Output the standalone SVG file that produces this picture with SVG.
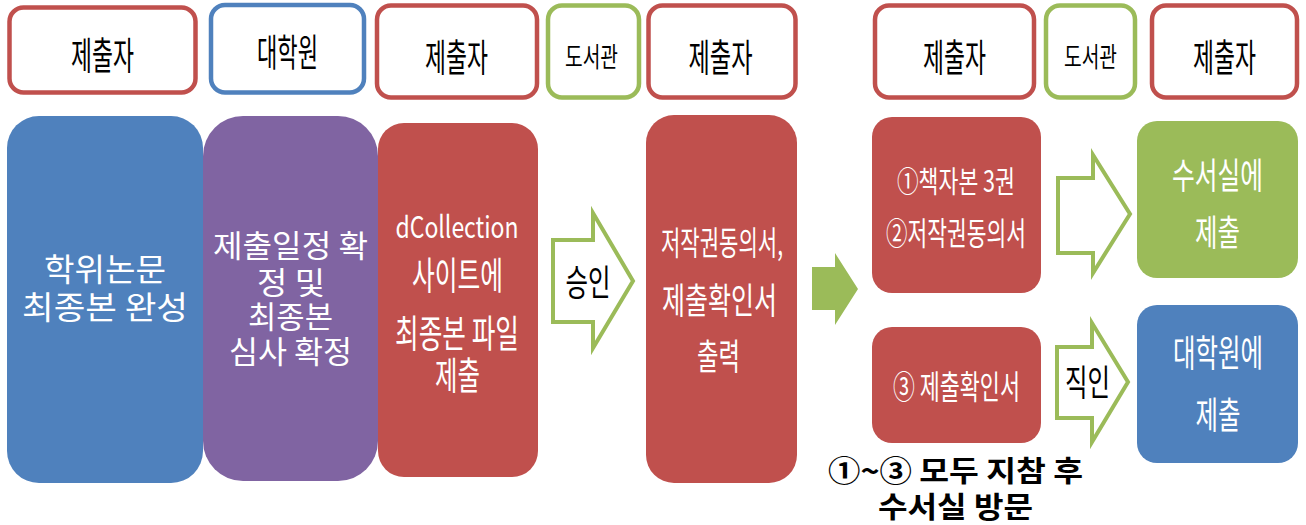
<svg xmlns="http://www.w3.org/2000/svg" width="1306" height="525" viewBox="0 0 1306 525">
<style>
text{font-family:"Noto Sans CJK KR","Noto Sans",sans-serif;text-anchor:middle}
.hdr{fill:#fff;stroke-width:4.5}
.r{stroke:#C0504D}.b{stroke:#4F81BD}.g{stroke:#9BBB59}
.ht{fill:#000;font-size:38px}
.hs{fill:#000;font-size:27px}
.w{fill:#fff}
.k{fill:#000}
.arr{fill:#fff;stroke:#9BBB59;stroke-width:4;stroke-linejoin:miter}
.bold{fill:#000;font-size:29px;font-weight:bold}
</style>
<rect width="1306" height="525" fill="#fff"/>
<!-- header row -->
<g id="h1"><rect class="hdr r" x="9.5" y="7.5" width="186" height="85" rx="14"/><text class="ht" x="102.5" y="69" textLength="63" lengthAdjust="spacingAndGlyphs">제출자</text></g>
<g id="h2"><rect class="hdr b" x="211" y="5" width="153" height="87.5" rx="14"/><text class="ht" x="287.5" y="66" textLength="61" lengthAdjust="spacingAndGlyphs">대학원</text></g>
<g id="h3"><rect class="hdr r" x="377" y="5.5" width="160" height="92" rx="14"/><text class="ht" x="456.5" y="71" textLength="63" lengthAdjust="spacingAndGlyphs">제출자</text></g>
<g id="h4"><rect class="hdr g" x="548" y="5.5" width="91" height="92" rx="14"/><text class="hs" x="591.5" y="67" textLength="53" lengthAdjust="spacingAndGlyphs">도서관</text></g>
<g id="h5"><rect class="hdr r" x="648.5" y="5.5" width="147" height="92" rx="14"/><text class="ht" x="720.5" y="71" textLength="64" lengthAdjust="spacingAndGlyphs">제출자</text></g>
<g id="h6"><rect class="hdr r" x="875" y="5.5" width="159" height="92" rx="14"/><text class="ht" x="954.5" y="71" textLength="63" lengthAdjust="spacingAndGlyphs">제출자</text></g>
<g id="h7"><rect class="hdr g" x="1046" y="5.5" width="89" height="92" rx="14"/><text class="hs" x="1090.5" y="67" textLength="53" lengthAdjust="spacingAndGlyphs">도서관</text></g>
<g id="h8"><rect class="hdr r" x="1152" y="5.5" width="145" height="92" rx="14"/><text class="ht" x="1224.5" y="71" textLength="63" lengthAdjust="spacingAndGlyphs">제출자</text></g>
<!-- process boxes -->
<g id="n1"><rect x="7" y="116" width="196" height="367" rx="32" fill="#4F81BD"/>
<text class="w" font-size="32" x="105" y="281" textLength="122" lengthAdjust="spacingAndGlyphs">학위논문</text>
<text class="w" font-size="32" x="105" y="319" textLength="166" lengthAdjust="spacingAndGlyphs">최종본 완성</text></g>
<g id="n2"><rect x="203" y="116" width="175" height="365" rx="40" fill="#8064A2"/>
<text class="w" font-size="31" x="290.5" y="257" textLength="155" lengthAdjust="spacingAndGlyphs">제출일정 확</text>
<text class="w" font-size="31" x="291" y="294" textLength="68" lengthAdjust="spacingAndGlyphs">정 및</text>
<text class="w" font-size="31" x="290.5" y="328" textLength="85" lengthAdjust="spacingAndGlyphs">최종본</text>
<text class="w" font-size="31" x="290.5" y="363" textLength="123" lengthAdjust="spacingAndGlyphs">심사 확정</text></g>
<g id="n3"><rect x="378" y="123" width="160" height="354" rx="26" fill="#C0504D"/>
<text class="w" font-size="30" x="457" y="238" textLength="123" lengthAdjust="spacingAndGlyphs">dCollection</text>
<text class="w" font-size="38" x="457.5" y="289" textLength="91" lengthAdjust="spacingAndGlyphs">사이트에</text>
<text class="w" font-size="38" x="457" y="347" textLength="124" lengthAdjust="spacingAndGlyphs">최종본 파일</text>
<text class="w" font-size="38" x="457.5" y="389" textLength="45" lengthAdjust="spacingAndGlyphs">제출</text></g>
<g id="n4"><rect x="646" y="115" width="151" height="368" rx="28" fill="#C0504D"/>
<text class="w" font-size="33" x="722" y="255" textLength="122" lengthAdjust="spacingAndGlyphs">저작권동의서,</text>
<text class="w" font-size="36" x="719.5" y="314" textLength="115" lengthAdjust="spacingAndGlyphs">제출확인서</text>
<text class="w" font-size="36" x="718.5" y="370" textLength="43" lengthAdjust="spacingAndGlyphs">출력</text></g>
<g id="n5"><rect x="872" y="117" width="169" height="176" rx="20" fill="#C0504D"/>
<text class="w" font-size="30" x="956" y="192" textLength="118" lengthAdjust="spacingAndGlyphs">①책자본 3권</text>
<text class="w" font-size="32" x="956" y="245" textLength="140" lengthAdjust="spacingAndGlyphs">②저작권동의서</text></g>
<g id="n6"><rect x="872" y="327" width="169" height="116" rx="20" fill="#C0504D"/>
<text class="w" font-size="33" x="956.5" y="399" textLength="127" lengthAdjust="spacingAndGlyphs">③ 제출확인서</text></g>
<g id="n7"><rect x="1137" y="121" width="161" height="157" rx="20" fill="#9BBB59"/>
<text class="w" font-size="36" x="1217.5" y="189" textLength="91" lengthAdjust="spacingAndGlyphs">수서실에</text>
<text class="w" font-size="36" x="1217.5" y="246" textLength="45" lengthAdjust="spacingAndGlyphs">제출</text></g>
<g id="n8"><rect x="1137" y="305" width="161" height="158" rx="20" fill="#4F81BD"/>
<text class="w" font-size="37" x="1218" y="367" textLength="90" lengthAdjust="spacingAndGlyphs">대학원에</text>
<text class="w" font-size="37" x="1218" y="429" textLength="45" lengthAdjust="spacingAndGlyphs">제출</text></g>
<!-- connectors -->
<g id="connectors">
<path class="arr" d="M553,240 L593,240 L593,213 L633,281 L593,348 L593,322 L553,322 Z"/>
<text class="k" font-size="36" x="588" y="296" textLength="45" lengthAdjust="spacingAndGlyphs">승인</text>
<path d="M812,267 L835,267 L835,253 L858,289 L835,325 L835,310 L812,310 Z" fill="#9BBB59"/>
<path class="arr" d="M1058,178 L1093,178 L1093,155 L1130,214 L1093,273 L1093,253 L1058,253 Z"/>
<path class="arr" d="M1057,347 L1092,347 L1092,323 L1128,382 L1092,442 L1092,418 L1057,418 Z"/>
<text class="k" font-size="36" x="1087.5" y="396" textLength="45" lengthAdjust="spacingAndGlyphs">직인</text>
</g>
<g id="note">
<text class="bold" x="955.5" y="482" textLength="255" lengthAdjust="spacingAndGlyphs">①~③ 모두 지참 후</text>
<text class="bold" x="955.5" y="518" textLength="155" lengthAdjust="spacingAndGlyphs">수서실 방문</text>
</g>
</svg>
